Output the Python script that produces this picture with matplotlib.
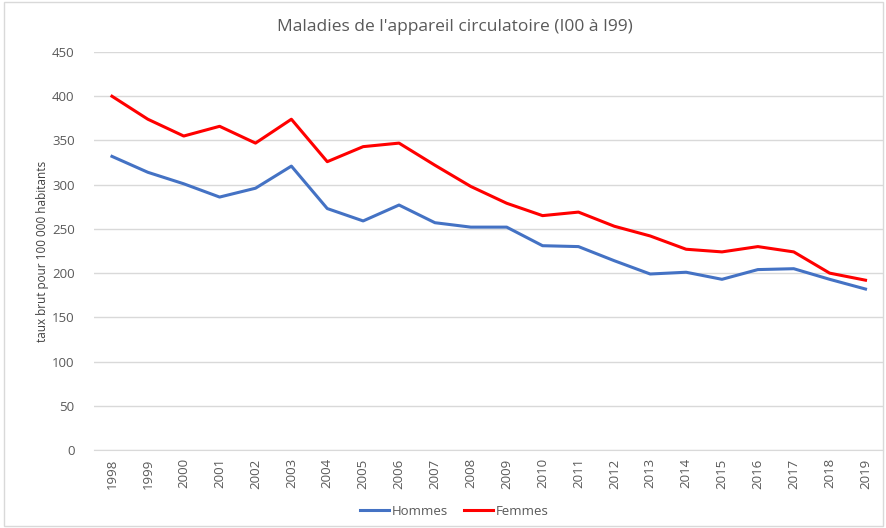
import matplotlib.pyplot as plt
from matplotlib.patches import Rectangle

years = [str(y) for y in range(1998, 2020)]
hommes = [332, 314, 301, 286, 296, 321, 273, 259, 277, 257, 252, 252,
          231, 230, 214, 199, 201, 193, 204, 205, 193, 182]
femmes = [400, 374, 355, 366, 347, 374, 326, 343, 347, 322, 298, 279,
          265, 269, 253, 242, 227, 224, 230, 224, 200, 192]

plt.rcParams['font.family'] = ['Open Sans', 'DejaVu Sans']
grey = '#595959'

fig = plt.figure(figsize=(8.87, 5.28), dpi=100)
ax = fig.add_axes([0.106, 0.1477, 0.890, 0.7538])

x = range(len(years))
ax.plot(x, hommes, color='#4472C4', lw=2.2, label='Hommes')
ax.plot(x, femmes, color='#FF0000', lw=2.2, label='Femmes')

ax.set_xlim(-0.5, len(years) - 0.5)
ax.set_ylim(0, 450)
ax.set_yticks(range(0, 451, 50))
ax.set_xticks(list(x))
ax.set_xticklabels(years, rotation=90)
ax.tick_params(axis='both', length=0, colors=grey, labelsize=9.5)
ax.tick_params(axis='y', pad=14)
ax.tick_params(axis='x', pad=6)
ax.grid(axis='y', color='#D9D9D9', lw=1)
ax.set_axisbelow(True)
for s in ['top', 'right', 'left']:
    ax.spines[s].set_visible(False)
ax.spines['bottom'].set_color('#D9D9D9')

ax.set_ylabel('taux brut pour 100 000 habitants', fontsize=8.5, color='#404040', labelpad=2)
fig.text(0.513, 0.948, "Maladies de l'appareil circulatoire (I00 à I99)",
         ha='center', va='center', fontsize=12.5, color=grey)

fig.legend(loc='center', bbox_to_anchor=(0.512, 0.032), ncol=2, frameon=False,
           fontsize=9.5, handlelength=2.2, handletextpad=0.2, columnspacing=1.2,
           labelcolor=grey)

fig.patches.append(Rectangle((0.004, 0.004), 0.992, 0.992, transform=fig.transFigure,
                             fill=False, edgecolor='#D9D9D9', lw=1))

fig.savefig('out.png', dpi=100)
